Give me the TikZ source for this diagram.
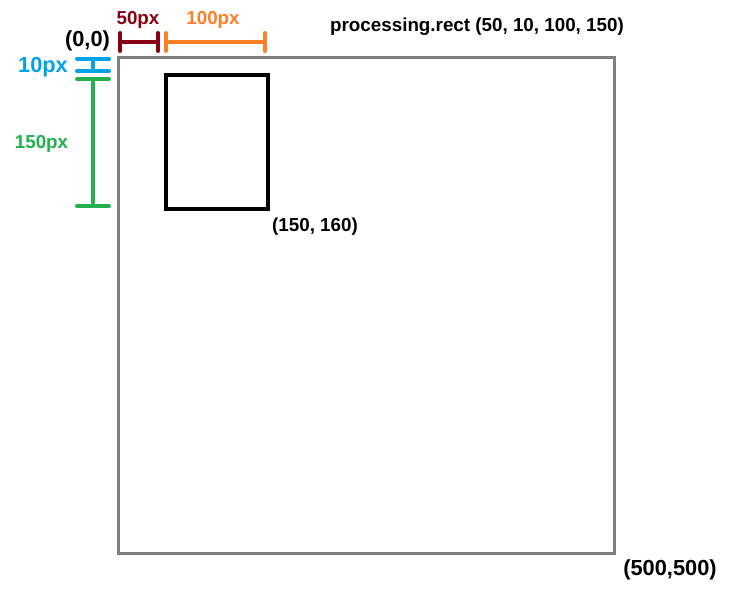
\documentclass[tikz,border=0pt]{standalone}
\usepackage{fontspec}
\setmainfont{Liberation Sans}
\usetikzlibrary{arrows.meta}
\definecolor{dimred}{HTML}{880015}
\definecolor{dimorange}{HTML}{FF7F27}
\definecolor{dimblue}{HTML}{00A2E8}
\definecolor{dimgreen}{HTML}{22B14C}
\definecolor{canvasgray}{HTML}{7F7F7F}

\begin{document}
\begin{tikzpicture}[x=1pt, y=-1pt,
    lbl/.style={font=\fontsize{18.8}{20}\selectfont\bfseries, inner sep=0pt},
    big/.style={font=\fontsize{21.8}{24}\selectfont\bfseries, inner sep=0pt},
    box/.style={draw, inner sep=0pt, outer sep=0pt, anchor=north west},
    hdim/.style={{Bar[width=18pt,round]}-{Bar[width=18pt,round]}, line width=4pt},
    vdim/.style={{Bar[width=32pt,round]}-{Bar[width=32pt,round]}, line width=4pt}
  ]
    \useasboundingbox (0,0) rectangle (736,595);
    \node[box, draw=canvasgray, line width=3pt, minimum width=496pt, minimum height=496pt] (canvas) at (118,57) {};
    \node[box, line width=4pt, minimum width=102pt, minimum height=134pt] (shape) at (166,75) {};
    \node[big] (origin) at (87.5,41) {(0,0)};
    \node[big] (corner) at (670,570) {(500,500)};
    \node[lbl] (endpt) at (315,227) {(150, 160)};
    \node[lbl] (call) at (477,27) {processing.rect (50, 10, 100, 150)};
    \node[lbl, text=dimred] (xlbl) at (138,20) {50px};
    \node[lbl, text=dimorange] (wlbl) at (213,20) {100px};
    \node[big, text=dimblue] (ylbl) at (43,67) {10px};
    \node[lbl, text=dimgreen] (hlbl) at (41.5,144) {150px};
    \coordinate (x0) at (118,42);
    \coordinate (x1) at (160,42);
    \coordinate (w0) at (164,42);
    \coordinate (w1) at (267,42);
    \coordinate (y0) at (93,57);
    \coordinate (y1) at (93,73);
    \coordinate (h0) at (93,77);
    \coordinate (h1) at (93,208);
    \draw[hdim, dimred] (x0) -- (x1);
    \draw[hdim, dimorange] (w0) -- (w1);
    \draw[vdim, dimblue] (y0) -- (y1);
    \draw[vdim, dimgreen] (h0) -- (h1);
  \end{tikzpicture}
\end{document}
